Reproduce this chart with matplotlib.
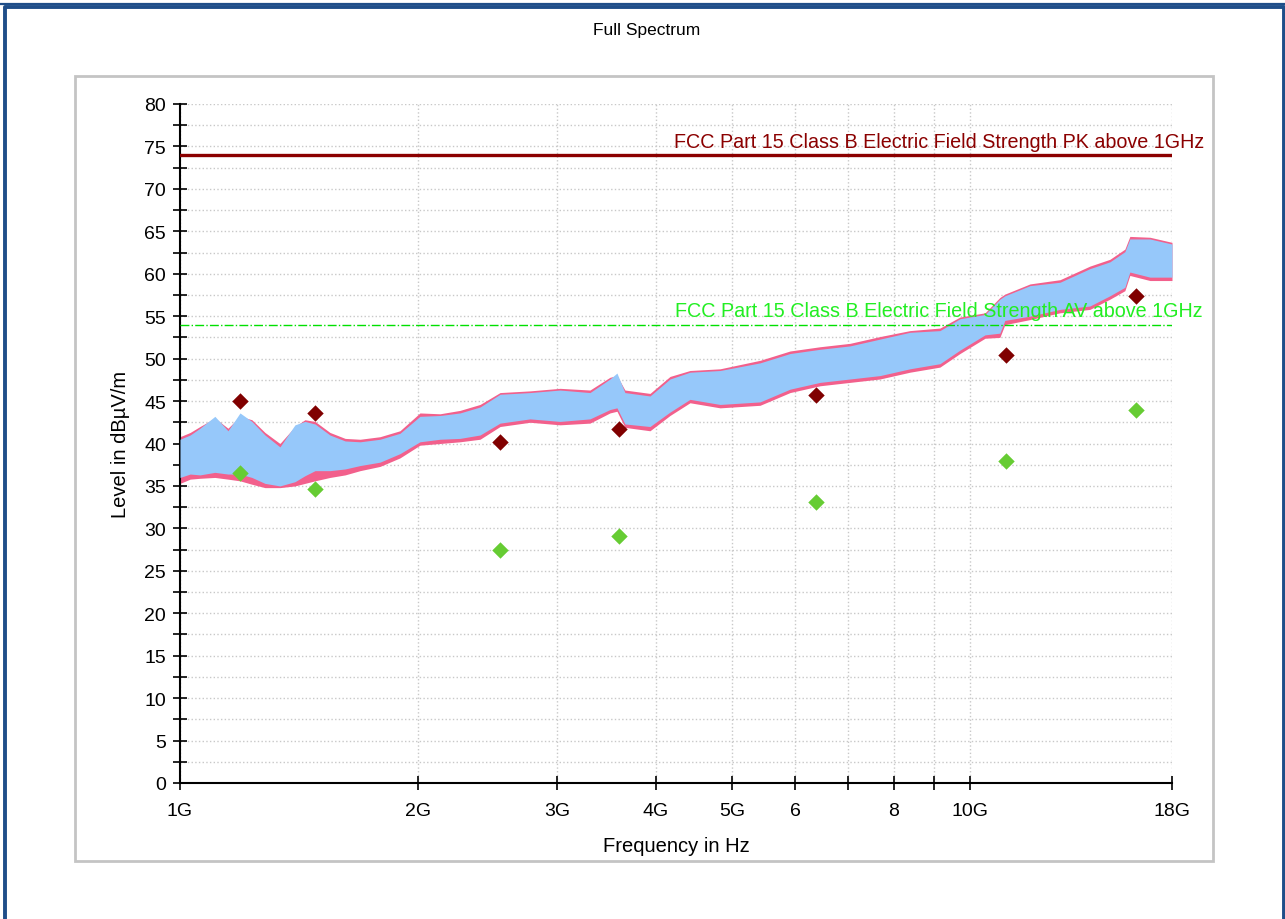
import numpy as np
import matplotlib
matplotlib.use("Agg")
import matplotlib.pyplot as plt
from matplotlib.lines import Line2D
from matplotlib.patches import Rectangle
from matplotlib.ticker import FixedLocator, FixedFormatter, MultipleLocator

plt.rcParams['font.family'] = ['Liberation Sans', 'DejaVu Sans']

# spectrum envelope (frequency in GHz, level in dBuV/m)
freq_ghz = [1.000, 1.030, 1.060, 1.107, 1.150, 1.191, 1.233, 1.281, 1.338, 1.398,
            1.439, 1.482, 1.548, 1.618, 1.690, 1.791, 1.898, 2.012, 2.133, 2.261,
            2.397, 2.541, 2.773, 3.026, 3.302, 3.500, 3.572, 3.656, 3.933, 4.169,
            4.419, 4.824, 5.420, 5.915, 6.455, 7.044, 7.687, 8.388, 9.154, 9.704,
            10.44, 10.90, 11.06, 11.90, 12.99, 14.17, 15.02, 15.69, 15.92, 16.88,
            18.00]
av_hi = [40.5, 41.0, 41.8, 43.2, 41.5, 43.6, 42.6, 41.0, 39.6, 42.2,
         42.6, 42.3, 41.0, 40.3, 40.2, 40.5, 41.2, 43.2, 43.3, 43.6,
         44.3, 45.8, 46.0, 46.3, 46.0, 47.6, 48.3, 46.0, 45.6, 47.6,
         48.4, 48.6, 49.5, 50.6, 51.1, 51.5, 52.3, 53.1, 53.3, 54.7,
         55.2, 57.0, 57.4, 58.6, 59.0, 60.6, 61.4, 62.6, 64.1, 64.1,
         63.5]
av_lo = [36.0, 36.4, 36.3, 36.6, 36.4, 36.4, 36.0, 35.3, 35.0, 35.5,
         36.2, 36.8, 36.8, 37.0, 37.4, 37.8, 38.8, 40.2, 40.5, 40.6,
         41.0, 42.4, 42.9, 42.6, 42.9, 44.0, 44.2, 42.3, 42.0, 43.7,
         45.2, 44.6, 44.9, 46.4, 47.2, 47.6, 48.0, 48.8, 49.4, 51.0,
         52.8, 53.0, 54.5, 55.0, 55.8, 56.2, 57.4, 58.4, 60.2, 59.6,
         59.6]
pk_hi = [40.8, 41.3, 42.0, 43.0, 41.8, 43.2, 42.8, 41.3, 40.0, 42.0,
         42.8, 42.6, 41.3, 40.6, 40.5, 40.8, 41.5, 43.6, 43.5, 43.9,
         44.6, 46.0, 46.2, 46.5, 46.3, 47.8, 48.0, 46.3, 45.9, 47.9,
         48.6, 48.8, 49.8, 50.9, 51.4, 51.8, 52.6, 53.3, 53.6, 54.9,
         55.4, 57.2, 57.6, 58.8, 59.3, 60.9, 61.7, 62.9, 64.4, 64.3,
         63.7]
pk_lo = [35.3, 35.8, 35.9, 36.0, 35.8, 35.6, 35.2, 34.8, 34.8, 35.0,
         35.3, 35.6, 36.0, 36.3, 36.8, 37.3, 38.3, 39.8, 40.0, 40.2,
         40.5, 42.0, 42.5, 42.2, 42.4, 43.6, 43.8, 41.9, 41.5, 43.3,
         44.8, 44.2, 44.5, 46.0, 46.8, 47.2, 47.6, 48.4, 49.0, 50.6,
         52.4, 52.5, 54.0, 54.6, 55.4, 55.8, 57.0, 58.0, 59.8, 59.2,
         59.2]

# final measurement markers
marker_ghz = [1.191, 1.482, 2.541, 3.59, 6.38, 11.1, 16.2]
marker_pk = [45.0, 43.6, 40.2, 41.7, 45.7, 50.4, 57.4]
marker_av = [36.5, 34.6, 27.5, 29.1, 33.1, 37.9, 43.9]

limit_pk = 74
limit_av = 54

W, H = 1285, 920
fig = plt.figure(figsize=(W / 100, H / 100), dpi=100)

def fx(px):
    return px / W

def fy(py):
    return 1 - py / H

# outer frame (open at the bottom) and inner box
blue = '#1f4e89'
fig.add_artist(Line2D([0, 1], [fy(4.8), fy(4.8)], color=blue, lw=1.6))
fig.add_artist(Line2D([fx(5), fx(5), fx(1284), fx(1284)],
                      [fy(925), fy(8), fy(8), fy(925)], color=blue, lw=2.8))
fig.add_artist(Rectangle((fx(75), fy(862)), fx(1213) - fx(75), fy(77) - fy(862),
                         transform=fig.transFigure, fill=False, ec='#c4c4c4', lw=2))

ax = fig.add_axes([fx(180), fy(784), fx(1172) - fx(180), fy(105) - fy(784)])
ax.set_xscale('log')

ax.fill_between(freq_ghz, pk_lo, pk_hi, color='#f2608c', lw=0, zorder=2)
ax.fill_between(freq_ghz, av_lo, av_hi, color='#96c8fa', lw=0, zorder=3)

ax.axhline(limit_pk, color='#8b0000', lw=2.4, zorder=4)
ax.axhline(limit_av, color='#00e000', lw=1.0, ls='-.', zorder=4)
ax.text(1.033, limit_pk + 0.5, 'FCC Part 15 Class B Electric Field Strength PK above 1GHz',
        transform=ax.get_yaxis_transform(), ha='right', va='bottom',
        color='#8b0000', fontsize=14.2, clip_on=False)
ax.text(1.031, limit_av + 0.5, 'FCC Part 15 Class B Electric Field Strength AV above 1GHz',
        transform=ax.get_yaxis_transform(), ha='right', va='bottom',
        color='#22ee22', fontsize=14.2, clip_on=False)

ax.scatter(marker_ghz, marker_pk, marker='D', s=70, color='#800000', lw=0, zorder=5)
ax.scatter(marker_ghz, marker_av, marker='D', s=70, color='#66cc33', lw=0, zorder=5)

ax.set_xlim(1, 18)
ax.set_ylim(0, 80)

xt = [1, 2, 3, 4, 5, 6, 7, 8, 9, 10, 18]
xl = ['1G', '2G', '3G', '4G', '5G', '6', '', '8', '', '10G', '18G']
ax.xaxis.set_major_locator(FixedLocator(xt))
ax.xaxis.set_major_formatter(FixedFormatter(xl))
ax.xaxis.set_minor_locator(FixedLocator([]))
ax.yaxis.set_major_locator(MultipleLocator(5))
ax.yaxis.set_minor_locator(MultipleLocator(2.5))

ax.grid(which='both', color='#c8c8c8', ls=':', lw=1.0)
ax.set_axisbelow(True)
ax.tick_params(which='both', direction='inout', length=10, width=1.2, labelsize=14, pad=5)
ax.tick_params(axis='x', pad=9)

for s in ['top', 'right']:
    ax.spines[s].set_visible(False)
for s in ['left', 'bottom']:
    ax.spines[s].set_linewidth(1.5)

ax.set_xlabel('Frequency in Hz', fontsize=14.5, labelpad=12)
ax.set_ylabel('Level in dB\u00b5V/m', fontsize=14.5, labelpad=10)

fig.text(fx(647), fy(31), 'Full Spectrum', ha='center', va='center', fontsize=12.5)

fig.savefig('out.png', dpi=100)
